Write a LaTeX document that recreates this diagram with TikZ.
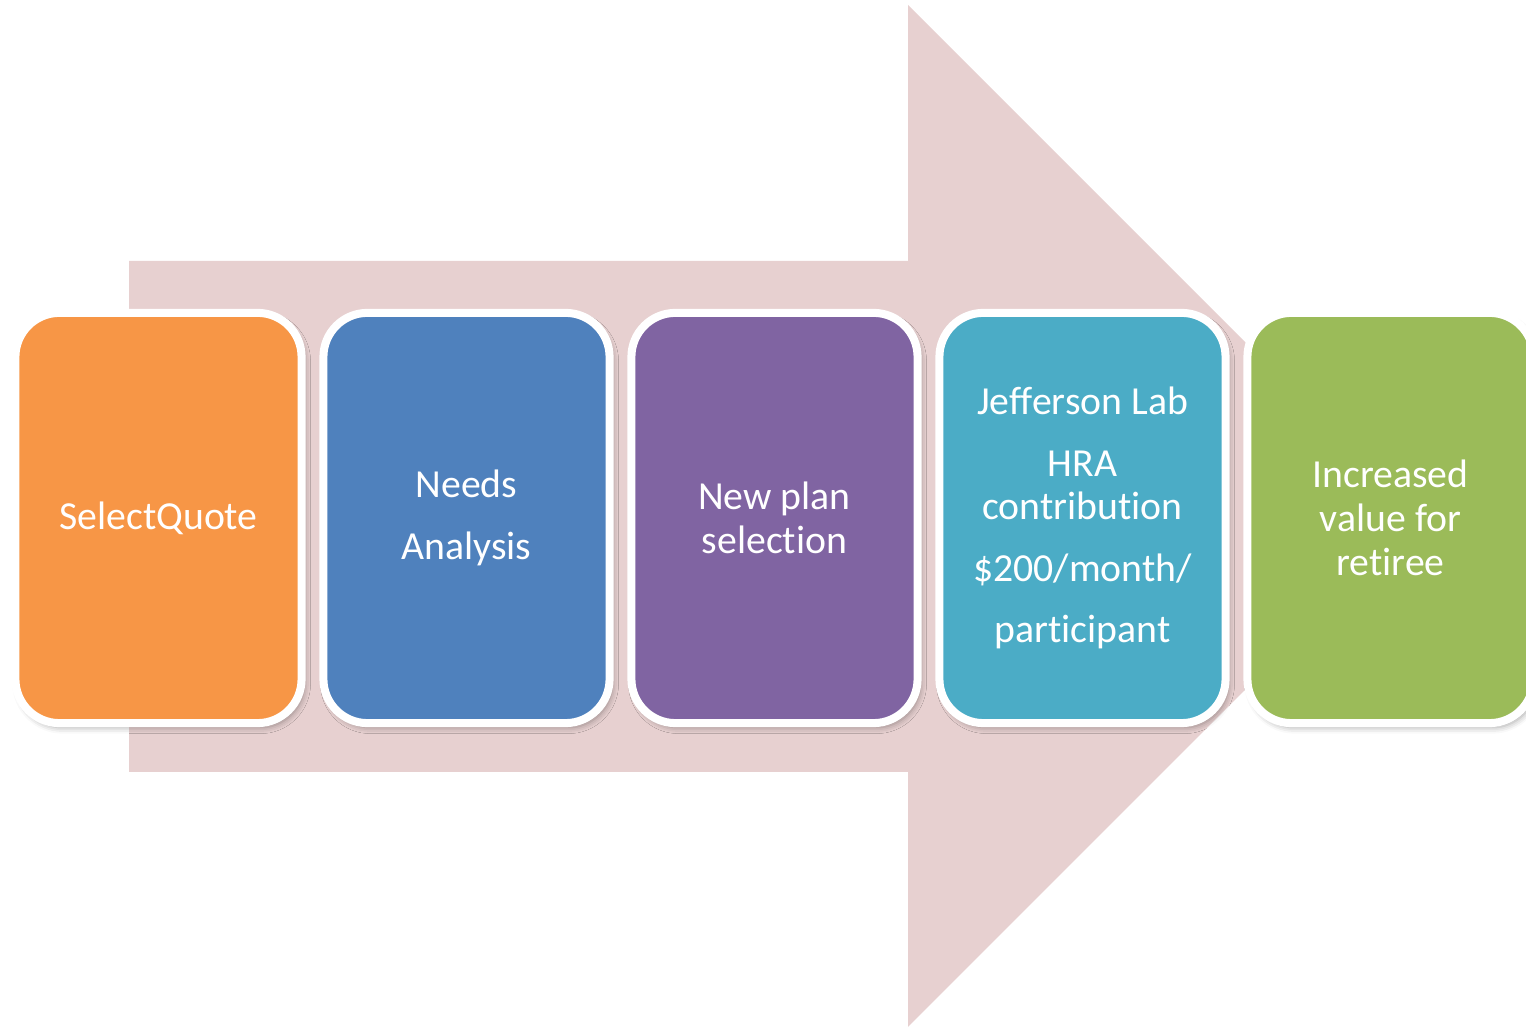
\documentclass[tikz,border=0pt]{standalone}
\usepackage{fontspec}
\setmainfont{Carlito}[Ligatures={NoCommon}]
\usepackage{tikz}
\usetikzlibrary{shadows.blur}

\definecolor{arrowpink}{HTML}{E7D0D0}
\definecolor{boxorange}{HTML}{F79646}
\definecolor{boxblue}{HTML}{4F81BD}
\definecolor{boxpurple}{HTML}{8064A2}
\definecolor{boxteal}{HTML}{4BACC6}
\definecolor{boxgreen}{HTML}{9BBB59}

\tikzset{
  stagebox/.style={draw=white, line width=2.28pt, rounded corners=0.44cm,
    minimum width=2.86cm, minimum height=4.10cm, inner sep=0pt,
    text=white, align=center, font=\fontsize{11.3}{12.5}\selectfont,
    blur shadow={shadow xshift=0.3mm, shadow yshift=-0.45mm,
      shadow blur radius=0.6mm, shadow opacity=35}}
}

\begin{document}
\begin{tikzpicture}[x=0.01cm, y=-0.01cm]
		%%%%% START %%%%%
		
		\useasboundingbox (0, 0) rectangle (1526, 1028);
		
		% the big arrow behind the stages
		\fill[arrowpink] (129, 261) -- (908, 261) -- (908, 5) -- (1419, 516)
			-- (908, 1027) -- (908, 772) -- (129, 772) -- cycle;
		
		\node[stagebox, fill=boxorange] (quote) at (158.5, 518) {SelectQuote};
		\node[stagebox, fill=boxblue] (needs) at (466.5, 518) {Needs\\[4.9pt] Analysis};
		\node[stagebox, fill=boxpurple] (plan) at (774.5, 518) {New plan\\ selection};
		\node[stagebox, fill=boxteal] (hra) at (1082.5, 518)
			{Jefferson Lab\\[4.9pt] HRA\\ contribution\\[4.9pt] \$200/month/\\[4.9pt] participant};
		\node[stagebox, fill=boxgreen] (value) at (1390.5, 518) {Increased\\ value for\\ retiree};
		
		%%%%% END %%%%%
	\end{tikzpicture}
\end{document}
